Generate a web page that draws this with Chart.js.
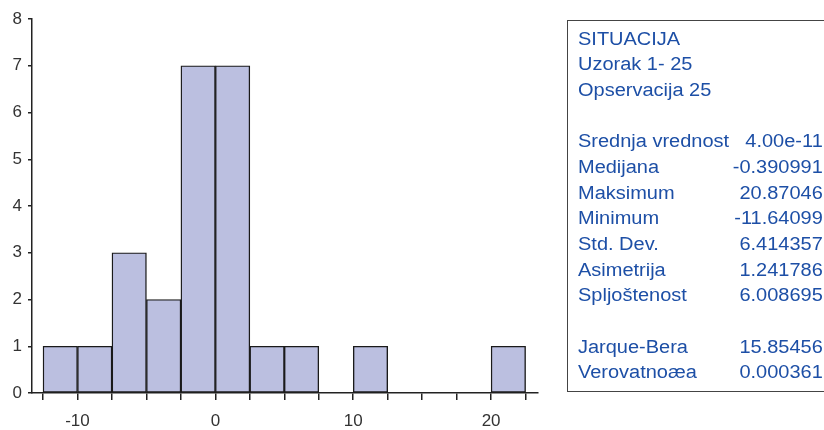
<!DOCTYPE html>
<html>
<head>
<meta charset="utf-8">
<script src="https://cdn.jsdelivr.net/npm/chart.js@4/dist/chart.umd.min.js"></script>
<style>
    html, body { margin: 0; padding: 0; background: #fff; }
    #wrap { position: relative; width: 824px; height: 430px; overflow: hidden; }
    #wrap canvas { position: absolute; left: 0; top: 0; }
    #stats {
        position: absolute; left: 567px; top: 20px; width: 300px; height: 372px;
        border: 1.5px solid #444; box-sizing: border-box;
    }
    #statsText {
        position: absolute; left: 578px; top: 26.5px; width: 220.5px;
        font-family: "Liberation Sans", Arial, sans-serif; font-size: 18px;
        line-height: 25.7px; color: #1d4fa6;
        transform: scaleX(1.11); transform-origin: 0 0;
    }
    .row { display: flex; justify-content: space-between; white-space: nowrap; height: 25.7px; }
</style>
</head>
<body>
<div id="wrap">
    <canvas id="chartHist"></canvas>
    <div id="stats"></div>
    <div id="statsText"></div>
</div>
<script>
// histogram bins (width 2.5)
const binCenters = [-11.25, -8.75, -6.25, -3.75, -1.25, 1.25, 3.75, 6.25, 8.75, 11.25, 13.75, 16.25, 18.75, 21.25];
const binCounts  = [1, 1, 3, 2, 7, 7, 1, 1, 0, 1, 0, 0, 0, 1];
const xTickMarks = [-12.5, -10, -7.5, -5, -2.5, 0, 2.5, 5, 7.5, 10, 12.5, 15, 17.5, 20, 22.5];
const xTickLabels = [-10, 0, 10, 20];

// stats panel
const headerLines = ['SITUACIJA', 'Uzorak 1- 25', 'Opservacija 25'];
const statNames  = ['Srednja vrednost', 'Medijana', 'Maksimum', 'Minimum', 'Std. Dev.', 'Asimetrija', 'Spljoštenost'];
const statValues = ['4.00e-11', '-0.390991', '20.87046', '-11.64099', '6.414357', '1.241786', '6.008695'];
const testNames  = ['Jarque-Bera', 'Verovatnoæa'];
const testValues = ['15.85456', '0.000361'];

function buildStats() {
    const box = document.getElementById('statsText');
    const addRow = (left, right) => {
        const row = document.createElement('div');
        row.className = 'row';
        const a = document.createElement('span');
        a.textContent = left;
        row.appendChild(a);
        if (right !== undefined) {
            const b = document.createElement('span');
            b.textContent = right;
            row.appendChild(b);
        }
        box.appendChild(row);
    };
    headerLines.forEach(t => addRow(t));
    addRow('');
    statNames.forEach((n, i) => addRow(n, statValues[i]));
    addRow('');
    testNames.forEach((n, i) => addRow(n, testValues[i]));
}

function buildChart() {
    const ctx = document.getElementById('chartHist').getContext('2d');
    const tickFont = { family: '"Liberation Sans", Arial, sans-serif', size: 17 };

    new Chart(ctx, {
        type: 'bar',
        data: {
            datasets: [{
                data: binCenters.map((c, i) => ({ x: c, y: binCounts[i] })),
                backgroundColor: '#bbbfe0',
                borderColor: '#1a1a1a',
                borderWidth: 1.4,
                borderSkipped: false,
                barPercentage: 1,
                categoryPercentage: 1
            }]
        },
        options: {
            responsive: true,
            maintainAspectRatio: false,
            animation: false,
            layout: { padding: { top: 19, right: 286, left: 0, bottom: 0 } },
            plugins: { legend: { display: false }, tooltip: { enabled: false } },
            scales: {
                x: {
                    type: 'linear',
                    offset: false,
                    min: -13.3,
                    max: 23.4,
                    afterBuildTicks: s => { s.ticks = xTickMarks.map(v => ({ value: v })); },
                    afterFit: s => { s.height = 37; },
                    grid: { offset: false, drawOnChartArea: false, drawTicks: true, tickLength: 7, color: '#222', lineWidth: 1.5 },
                    border: { color: '#222', width: 1.5 },
                    ticks: {
                        autoSkip: false,
                        maxRotation: 0,
                        padding: 11,
                        color: '#333',
                        font: tickFont,
                        callback: v => xTickLabels.includes(v) ? String(v) : ''
                    }
                },
                y: {
                    min: 0,
                    max: 8,
                    afterFit: s => { s.width = 32; },
                    grid: { drawOnChartArea: false, drawTicks: true, tickLength: 4, color: '#222', lineWidth: 1.5 },
                    border: { color: '#222', width: 1.5 },
                    ticks: { stepSize: 1, padding: 6, color: '#333', font: tickFont }
                }
            }
        }
    });
}

document.addEventListener('DOMContentLoaded', () => {
    buildStats();
    buildChart();
});
</script>
</body>
</html>
